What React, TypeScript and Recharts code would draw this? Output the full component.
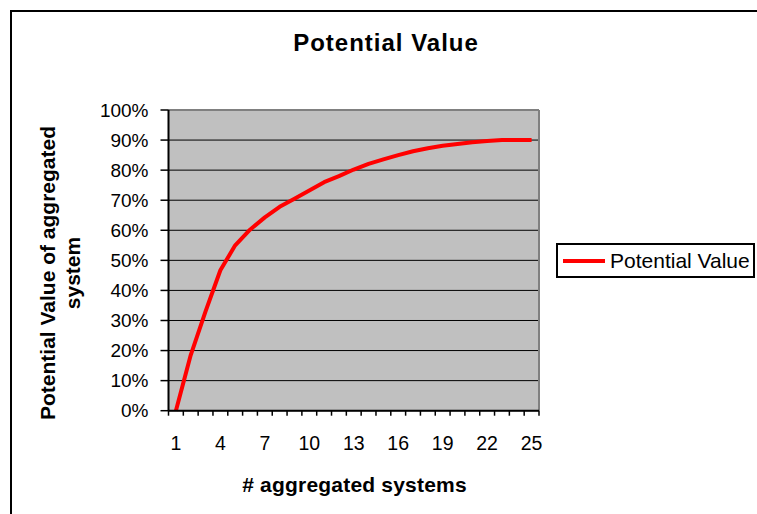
import React from 'react'
import { LineChart, Line, XAxis, YAxis, CartesianGrid, Legend, ReferenceLine } from 'recharts'

// number of aggregated systems (categories)
const systems = [1, 2, 3, 4, 5, 6, 7, 8, 9, 10, 11, 12, 13, 14, 15, 16, 17, 18, 19, 20, 21, 22, 23, 24, 25]
// potential value in %
const potentialValue = [0, 18.5, 33, 46.7, 55, 60.2, 64.3, 67.8, 70.5, 73.2, 76, 78, 80.2, 82.1, 83.6, 85, 86.3, 87.3, 88.1, 88.7, 89.3, 89.7, 90, 90, 90]
const xLabels = [1, 4, 7, 10, 13, 16, 19, 22, 25]
const yTicks = [0, 10, 20, 30, 40, 50, 60, 70, 80, 90, 100]

const data = systems.map((n, i) => ({ n, value: potentialValue[i] }))

// tick marks sit between categories, labels on every 3rd category
const boundaries = [...systems.map(n => n - 0.5), systems[systems.length - 1] + 0.5]
const xTicks = [...boundaries, ...xLabels].sort((a, b) => a - b)

const FONT = "'Liberation Sans', Arial, sans-serif"

function XTick(props: any) {
  const { x, y, payload } = props
  const v = payload.value
  if (v % 1 !== 0) {
    return <line x1={x} y1={y} x2={x} y2={y + 5} stroke="#000" strokeWidth={1.5} />
  }
  return (
    <text x={x} y={y + 25} dy="0.71em" textAnchor="middle" fill="#000" fontSize={19.5} fontFamily={FONT}>
      {v}
    </text>
  )
}

const renderLegend = (props: any) => {
  const { payload } = props
  return (
    <div style={{
      boxSizing: 'border-box', width: 199, height: 35, border: '2px solid #000', background: '#fff',
      display: 'flex', alignItems: 'center', paddingLeft: 5, fontFamily: FONT,
    }}>
      {payload.map((entry: any) => (
        <div key={entry.value} style={{ display: 'flex', alignItems: 'center' }}>
          <span style={{ display: 'inline-block', width: 42, height: 4, background: entry.color, marginRight: 5 }} />
          <span style={{ fontSize: 21, color: '#000', whiteSpace: 'nowrap' }}>{entry.value}</span>
        </div>
      ))}
    </div>
  )
}

export default function App() {
  return (
    <>
      <style>{'body{margin:0;overflow:hidden}'}</style>
      <div style={{
        position: 'absolute', left: 10, top: 10, width: 747, height: 504,
        borderTop: '2px solid #000', borderLeft: '2px solid #000', background: '#fff', fontFamily: FONT,
      }}>
        <div style={{ position: 'relative', width: 745, height: 502 }}>
          <LineChart width={745} height={502} data={data} margin={{ top: 98, right: 218, bottom: 0, left: 0 }}>
            <CartesianGrid vertical={false} stroke="#000" strokeWidth={1} fill="#C0C0C0" fillOpacity={1} />
            <XAxis
              dataKey="n"
              type="number"
              domain={[0.5, 25.5]}
              ticks={xTicks}
              interval={0}
              height={103.3}
              axisLine={{ stroke: '#000', strokeWidth: 2 }}
              tickLine={false}
              tickSize={0}
              tickMargin={0}
              tick={<XTick />}
            />
            <YAxis
              width={156.5}
              domain={[0, 100]}
              ticks={yTicks}
              interval={0}
              tickFormatter={(v: number) => `${v}%`}
              axisLine={{ stroke: '#000', strokeWidth: 2 }}
              tickLine={{ stroke: '#000', strokeWidth: 1.5 }}
              tickSize={8}
              tickMargin={12}
              tick={{ fill: '#000', fontSize: 19, fontFamily: FONT }}
            />
            <ReferenceLine y={100} stroke="#808080" strokeWidth={2} />
            <ReferenceLine x={25.5} stroke="#808080" strokeWidth={2} />
            <Line
              type="linear"
              dataKey="value"
              name="Potential Value"
              stroke="#FF0000"
              strokeWidth={4}
              strokeLinejoin="round"
              dot={false}
              isAnimationActive={false}
            />
            <Legend
              layout="horizontal"
              align="center"
              verticalAlign="middle"
              content={renderLegend}
              wrapperStyle={{ left: 544, top: 231, width: 199, height: 35 }}
            />
          </LineChart>
          <div style={{
            position: 'absolute', left: 374, top: 19.4, transform: 'translateX(-50%)',
            fontSize: 24, lineHeight: '24px', fontWeight: 'bold', letterSpacing: 1, whiteSpace: 'nowrap', color: '#000',
          }}>
            Potential Value
          </div>
          <div style={{
            position: 'absolute', left: 342.5, top: 462, transform: 'translateX(-50%)',
            fontSize: 21, lineHeight: '21px', fontWeight: 'bold', letterSpacing: 0.2, whiteSpace: 'nowrap', color: '#000',
          }}>
            # aggregated systems
          </div>
          <div style={{
            position: 'absolute', left: 48, top: 260.5, width: 330, transform: 'translate(-50%, -50%) rotate(-90deg)',
            fontSize: 21, lineHeight: '25px', fontWeight: 'bold', textAlign: 'center', color: '#000',
          }}>
            Potential Value of aggregated<br />system
          </div>
        </div>
      </div>
    </>
  )
}
